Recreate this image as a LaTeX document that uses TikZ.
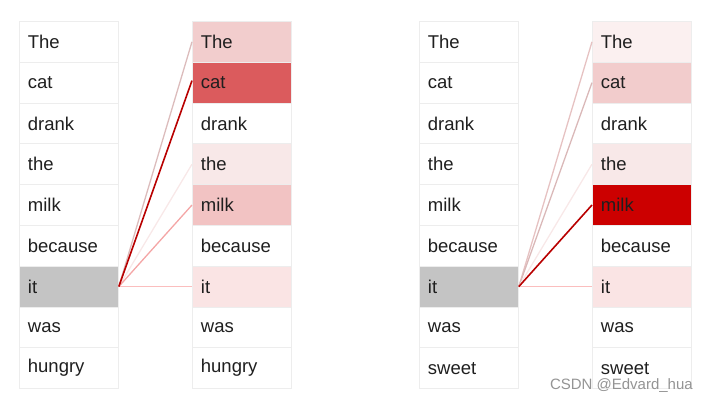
\documentclass[tikz,border=0pt]{standalone}
\usepackage{fontspec}
\setmainfont{Liberation Sans}
\begin{document}
\begin{tikzpicture}[x=1pt,y=-1pt,
  cell/.style={draw=black!7, line width=0.8pt, minimum height=40.8pt, text width=82pt, inner xsep=8.5pt, inner ysep=0pt, align=left, font=\fontsize{18.5}{21}\selectfont, text=black!88, anchor=north west},
  att/.style={line width=1.3pt}]
\useasboundingbox (0,0) rectangle (707,402);
\definecolor{none0}{HTML}{FFFFFF}
\definecolor{gr}{HTML}{C4C4C4}
\definecolor{aThe}{HTML}{F2CDCD}
\definecolor{aCat}{HTML}{DB5B5D}
\definecolor{aThe2}{HTML}{F8E8E8}
\definecolor{aMilk}{HTML}{F2C3C3}
\definecolor{aIt}{HTML}{FAE4E4}
\definecolor{bThe}{HTML}{FBF0F0}
\definecolor{bCat}{HTML}{F2CCCC}
\definecolor{bThe2}{HTML}{F8E8E8}
\definecolor{bMilk}{HTML}{CC0000}
\definecolor{bIt}{HTML}{FAE4E4}
% left pair
\foreach \w/\cl/\cr [count=\i from 0] in {The/none0/aThe,cat/none0/aCat,drank/none0/none0,the/none0/aThe2,milk/none0/aMilk,because/none0/none0,it/gr/aIt,was/none0/none0,hungry/none0/none0}{
  \node[cell, fill=\cl] (La\i) at (19,{21+40.8*\i}) {\w};
  \node[cell, fill=\cr] (Ra\i) at (192,{21+40.8*\i}) {\w};
}
% right pair
\foreach \w/\cl/\cr [count=\i from 0] in {The/none0/bThe,cat/none0/bCat,drank/none0/none0,the/none0/bThe2,milk/none0/bMilk,because/none0/none0,it/gr/bIt,was/none0/none0,sweet/none0/none0}{
  \node[cell, fill=\cl] (Lb\i) at (419,{21+40.8*\i}) {\w};
  \node[cell, fill=\cr] (Rb\i) at (592,{21+40.8*\i}) {\w};
}
% attention lines, left
\draw[att, color=aThe!90!black!95] (La6.east) -- (Ra0.west);
\draw[att, color=aThe2] (La6.east) -- (Ra3.west);
\draw[att, color=aMilk!85!red] (La6.east) -- (Ra4.west);
\draw[att, color=aIt!80!red!90] (La6.east) -- (Ra6.west);
\draw[line width=1.6pt, color=bMilk!90!black] (La6.east) -- ([yshift=2pt]Ra1.west);
% attention lines, right
\draw[att, color=bCat!95!black] (Lb6.east) -- (Rb0.west);
\draw[att, color=bCat!90!black] (Lb6.east) -- (Rb1.west);
\draw[att, color=bThe2] (Lb6.east) -- (Rb3.west);
\draw[att, color=bIt!80!red!90] (Lb6.east) -- (Rb6.west);
\draw[line width=1.6pt, color=bMilk!90!black] (Lb6.east) -- (Rb4.west);
\node[anchor=east, text=black!42, font=\fontsize{15}{17}\selectfont, inner sep=0pt] (wm) at (693,386) {CSDN @Edvard\_hua};
\end{tikzpicture}
\end{document}
